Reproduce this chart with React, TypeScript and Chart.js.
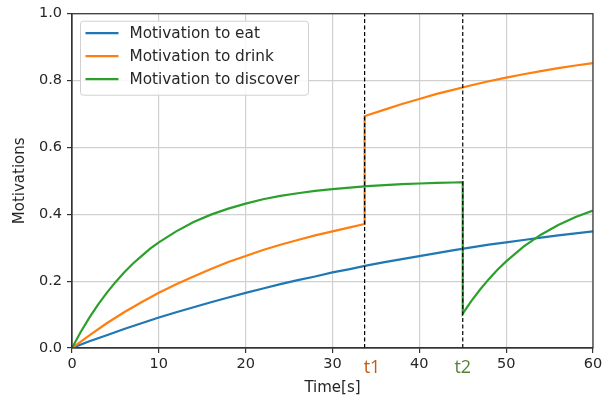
import React, { useEffect, useRef } from "react";
import { Chart, registerables } from "chart.js";

Chart.register(...registerables);

// ---- data ----
const seriesLabels = ["Motivation to eat", "Motivation to drink", "Motivation to discover"];
const seriesColors = ["#1f77b4", "#ff7f0e", "#2ca02c"];

const timeEat = [0, 2, 4, 6, 8, 10, 12, 14, 16, 18, 20, 22, 24, 26, 28, 30, 32, 34, 36, 38, 40, 42, 44, 46, 48, 50, 52, 54, 56, 58, 60];
const eatValues = [0, 0.020, 0.038, 0.057, 0.074, 0.091, 0.107, 0.122, 0.137, 0.151, 0.165, 0.178, 0.191, 0.203, 0.214, 0.226, 0.236, 0.247, 0.257, 0.266, 0.275, 0.284, 0.293, 0.301, 0.309, 0.316, 0.323, 0.330, 0.337, 0.343, 0.349];

const timeDrink = [0, 2, 4, 6, 8, 10, 12, 14, 16, 18, 20, 22, 24, 26, 28, 30, 32, 33.7, 33.7, 34, 36, 38, 40, 42, 44, 46, 48, 50, 52, 54, 56, 58, 60];
const drinkValues = [0, 0.038, 0.074, 0.107, 0.137, 0.165, 0.191, 0.214, 0.236, 0.257, 0.275, 0.293, 0.309, 0.323, 0.337, 0.349, 0.361, 0.371, 0.693, 0.696, 0.713, 0.730, 0.745, 0.760, 0.773, 0.786, 0.798, 0.809, 0.819, 0.828, 0.837, 0.845, 0.852];

const timeDiscover = [0, 1, 2, 3, 4, 5, 6, 7, 8, 9, 10, 12, 14, 16, 18, 20, 22, 24, 26, 28, 30, 32, 34, 36, 38, 40, 42, 44, 45, 45, 46, 47, 48, 49, 50, 52, 54, 56, 58, 60];
const discoverValues = [0, 0.048, 0.091, 0.130, 0.165, 0.197, 0.226, 0.252, 0.275, 0.297, 0.316, 0.349, 0.377, 0.399, 0.417, 0.432, 0.445, 0.455, 0.463, 0.470, 0.475, 0.480, 0.484, 0.487, 0.490, 0.492, 0.494, 0.495, 0.496, 0.103, 0.141, 0.175, 0.206, 0.234, 0.259, 0.303, 0.339, 0.368, 0.392, 0.411];

const eventTimes = [33.7, 45.0];
const eventLabels = ["t1", "t2"];
const eventColors = ["#c55a11", "#548235"];

const xTicks = [0, 10, 20, 30, 40, 50, 60];
const yTicks = [0, 0.2, 0.4, 0.6, 0.8, 1.0];

const xTitle = "Time[s]";
const yTitle = "Motivations";

const TICK_FONT = { family: "'DejaVu Sans', sans-serif", size: 14.5 };
const TEXT_COLOR = "#262626";

function pairs(xs: number[], ys: number[]) {
  return xs.map((x, i) => ({ x, y: ys[i] }));
}

const overlayPlugin = {
  id: "overlay",
  afterDatasetsDraw(chart: any) {
    const { ctx, chartArea } = chart;
    const { left, right, top, bottom } = chartArea;
    ctx.save();
    // frame (spines)
    ctx.strokeStyle = "#333333";
    ctx.lineWidth = 1.2;
    ctx.strokeRect(left, top, right - left, bottom - top);

    // legend box
    const bx = left + 8.5, by = top + 7.5, bw = 228, bh = 74;
    ctx.beginPath();
    const r = 3;
    ctx.moveTo(bx + r, by);
    ctx.lineTo(bx + bw - r, by);
    ctx.arcTo(bx + bw, by, bx + bw, by + r, r);
    ctx.lineTo(bx + bw, by + bh - r);
    ctx.arcTo(bx + bw, by + bh, bx + bw - r, by + bh, r);
    ctx.lineTo(bx + r, by + bh);
    ctx.arcTo(bx, by + bh, bx, by + bh - r, r);
    ctx.lineTo(bx, by + r);
    ctx.arcTo(bx, by, bx + r, by, r);
    ctx.closePath();
    ctx.fillStyle = "rgba(255,255,255,0.85)";
    ctx.fill();
    ctx.strokeStyle = "#d0d0d0";
    ctx.lineWidth = 1;
    ctx.stroke();

    ctx.font = "15.3px 'DejaVu Sans', sans-serif";
    ctx.textBaseline = "middle";
    ctx.textAlign = "left";
    seriesLabels.forEach((lab, i) => {
      const cy = by + 12 + i * 23;
      ctx.strokeStyle = seriesColors[i];
      ctx.lineWidth = 2.2;
      ctx.beginPath();
      ctx.moveTo(bx + 5, cy);
      ctx.lineTo(bx + 38, cy);
      ctx.stroke();
      ctx.fillStyle = TEXT_COLOR;
      ctx.fillText(lab, bx + 49, cy + 0.5);
    });
    ctx.restore();
  },
  afterDraw(chart: any) {
    const { ctx, scales } = chart;
    ctx.save();
    ctx.font = "18px 'Open Sans', sans-serif";
    ctx.textBaseline = "middle";
    eventTimes.forEach((t, i) => {
      const px = scales.x.getPixelForValue(t);
      ctx.fillStyle = eventColors[i];
      ctx.textAlign = i === 0 ? "left" : "center";
      ctx.fillText(eventLabels[i], i === 0 ? px - 1 : px, 368);
    });
    ctx.restore();
  },
};

export default function App() {
  const canvasRef = useRef<HTMLCanvasElement | null>(null);

  useEffect(() => {
    const canvas = canvasRef.current;
    if (!canvas) return;
    const datasets: any[] = [
      ...eventTimes.map((t) => ({
        label: "",
        data: [{ x: t, y: 0 }, { x: t, y: 1 }],
        showLine: true,
        borderColor: "#000000",
        borderWidth: 1.2,
        borderDash: [4, 2.5],
        pointRadius: 0,
        order: 0,
      })),
      {
        label: seriesLabels[0],
        data: pairs(timeEat, eatValues),
        order: 3,
      },
      {
        label: seriesLabels[1],
        data: pairs(timeDrink, drinkValues),
        order: 2,
      },
      {
        label: seriesLabels[2],
        data: pairs(timeDiscover, discoverValues),
        order: 1,
      },
    ];
    datasets.forEach((d, i) => {
      if (i >= eventTimes.length) {
        const k = i - eventTimes.length;
        d.showLine = true;
        d.borderColor = seriesColors[k];
        d.backgroundColor = seriesColors[k];
        d.borderWidth = 2.2;
        d.pointRadius = 0;
        d.tension = 0;
      }
    });

    const chart = new Chart(canvas, {
      type: "scatter",
      data: { datasets },
      options: {
        animation: false,
        responsive: false,
        devicePixelRatio: 1,
        layout: { padding: { left: 0, top: 12.5, right: 17, bottom: 0 } },
        plugins: {
          legend: { display: false },
          tooltip: { enabled: false },
        },
        scales: {
          x: {
            type: "linear",
            min: 0,
            max: 60,
            afterFit: (s: any) => {
              s.height = 52;
            },
            afterBuildTicks: (s: any) => {
              s.ticks = xTicks.map((v) => ({ value: v }));
            },
            ticks: {
              font: TICK_FONT,
              color: TEXT_COLOR,
              padding: 3,
              maxRotation: 0,
              autoSkip: false,
              callback: (v: any) => String(v),
            },
            grid: {
              color: "#d0d0d0",
              lineWidth: 1.2,
              tickLength: 5,
              tickColor: "#333333",
            },
            border: { display: true, color: "#333333", width: 1.2 },
            title: {
              display: true,
              text: xTitle,
              font: { family: "'DejaVu Sans', sans-serif", size: 15 },
              color: TEXT_COLOR,
              padding: { top: 0, bottom: 3 },
            },
          },
          y: {
            type: "linear",
            min: 0,
            max: 1,
            afterFit: (s: any) => {
              s.width = 72;
            },
            afterBuildTicks: (s: any) => {
              s.ticks = yTicks.map((v) => ({ value: v }));
            },
            ticks: {
              font: TICK_FONT,
              color: TEXT_COLOR,
              padding: 5,
              autoSkip: false,
              callback: (v: any) => Number(v).toFixed(1),
            },
            grid: {
              color: "#d0d0d0",
              lineWidth: 1.2,
              tickLength: 5,
              tickColor: "#333333",
            },
            border: { display: true, color: "#333333", width: 1.2 },
            title: {
              display: true,
              text: yTitle,
              font: { family: "'DejaVu Sans', sans-serif", size: 15 },
              color: TEXT_COLOR,
              padding: { top: 11, bottom: 0 },
            },
          },
        },
      },
      plugins: [overlayPlugin],
    });
    return () => chart.destroy();
  }, []);

  return (
    <div style={{ position: "fixed", left: 0, top: 0, width: 610, height: 400, background: "#ffffff" }}>
      <canvas ref={canvasRef} width={610} height={400} />
    </div>
  );
}
